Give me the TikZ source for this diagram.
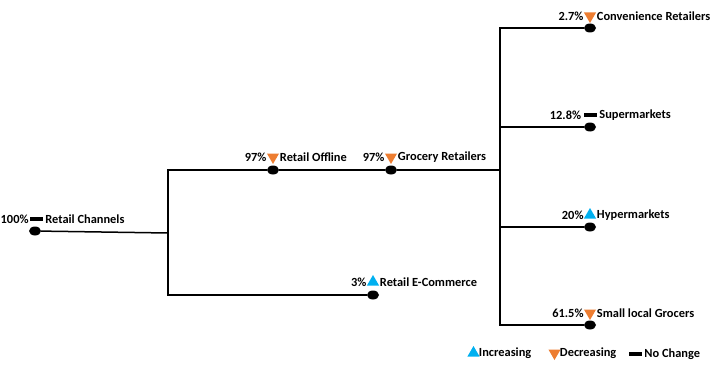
\documentclass[tikz,border=0pt]{standalone}
\usepackage{fontspec}
\setmainfont{Carlito}
\usetikzlibrary{positioning,shapes.geometric}
\definecolor{upblue}{RGB}{0,176,240}
\definecolor{downorange}{RGB}{237,125,49}
\tikzset{
  dot/.style={ellipse, fill=black, minimum width=12pt, minimum height=9pt, inner sep=0pt},
  conn/.style={line width=1.5pt},
  incr/.style={regular polygon, regular polygon sides=3, fill=upblue, minimum size=14pt, inner sep=0pt},
  decr/.style={incr, fill=downorange, shape border rotate=180},
  same/.style={rectangle, fill=black, minimum width=13pt, minimum height=3.5pt, inner sep=0pt},
  pct/.style={font=\bfseries\fontsize{12.4}{14}\selectfont, inner sep=1pt},
  lbl/.style={pct}
}

\begin{document}
\begin{tikzpicture}[x=1pt, y=-1pt]
  \useasboundingbox (0,0) rectangle (717,369);
  % wurzel und erste ebene
  \node[dot] (channels) at (35,231) {};
  \node[dot] (offline) at (273,170) {};
  \node[dot] (grocery) at (391,170) {};
  \node[dot] (ecom) at (373,295) {};
  \coordinate (j1) at (168,233);
  \coordinate (j2) at (500,170);
  \draw[conn] (channels) -- (j1);
  \draw[conn] (j1) |- (offline);
  \draw[conn] (j1) |- (ecom);
  \draw[conn] (offline) -- (grocery) -- (j2);
  % beschriftungen
  \node[same, yshift=12pt, xshift=1.5pt] (channels-m) at (channels) {};
  \node[pct, inner sep=0.5pt, left=0.5pt of channels-m] {100\%};
  \node[lbl, right=1pt of channels-m] {Retail Channels};
  \foreach \n/\m/\p/\t in {offline/decr/97\%/Retail Offline, grocery/decr/97\%/Grocery Retailers, ecom/incr/3\%/Retail E-Commerce} {
    \node[\m, yshift=13pt] (\n-m) at (\n) {};
    \node[pct, left=1pt of \n-m] {\p};
    \node[lbl, right=1.5pt of \n-m] {\t};
  }
  % zweite ebene
  \foreach \n/\y/\m/\p/\t in {conv/28/decr/2.7\%/Convenience Retailers, super/127/same/12.8\%/Supermarkets, hyper/227/incr/20\%/Hypermarkets, small/325/decr/61.5\%/Small local Grocers} {
    \node[dot] (\n) at (590,\y) {};
    \node[\m, yshift=12pt] (\n-m) at (\n) {};
    \node[pct, left=1pt of \n-m] {\p};
    \node[lbl, right=1.5pt of \n-m] {\t};
    \draw[conn] (j2) |- (\n);
  }
  % legende
  \node[incr] (leg-up) at (473.5,353) {};
  \node[lbl, right=0pt of leg-up] {Increasing};
  \node[decr] (leg-down) at (554.5,353) {};
  \node[lbl, right=0pt of leg-down] {Decreasing};
  \node[same] (leg-same) at (635.5,354) {};
  \node[lbl, right=1pt of leg-same] {No Change};
\end{tikzpicture}
\end{document}
